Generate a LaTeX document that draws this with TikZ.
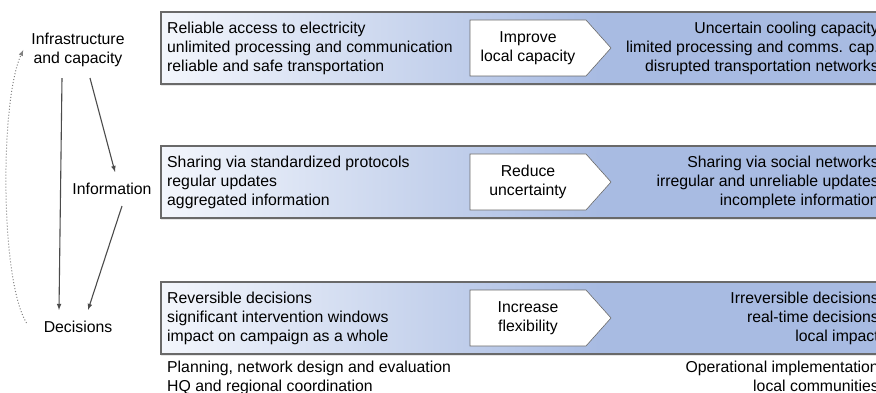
\documentclass[tikz,border=0pt]{standalone}
\usepackage{fontspec}
\setmainfont{Liberation Sans}
\usetikzlibrary{shadows}
\definecolor{bandblue}{RGB}{168,187,226}
\definecolor{bandpale}{RGB}{243,246,252}
\definecolor{rimgray}{RGB}{105,105,105}
\definecolor{arrgray}{RGB}{75,75,75}
\pgfdeclarehorizontalshading{bandfill}{100bp}{color(0bp)=(bandpale); color(25bp)=(bandpale); color(55bp)=(bandblue); color(100bp)=(bandblue)}
\begin{document}
\begin{tikzpicture}[>=latex, x=1pt, y=-1pt, font=\fontsize{15.8}{19}\selectfont]
\tikzset{
  band/.style={draw=rimgray, line width=1.6pt, shading=bandfill,
    drop shadow={shadow xshift=0pt, shadow yshift=-2pt, opacity=.2}},
  tagbox/.style={draw=rimgray, line width=.6pt, fill=white},
  factor/.style={align=center, inner xsep=0pt, inner ysep=11pt},
  flow/.style={->, draw=arrgray, line width=1.1pt},
}
\useasboundingbox (0,0) rectangle (876,393);

% the three bands: centralised side, action, field side
\foreach \c/\ltext/\mtext/\rtext [count=\i] in {
  48/{Reliable access to electricity\\unlimited processing and communication\\reliable and safe transportation}/{Improve\\local capacity}/{Uncertain cooling capacity\\limited processing and comms. cap.\\disrupted transportation networks},
  182/{Sharing via standardized protocols\\regular updates\\aggregated information}/{Reduce\\uncertainty}/{Sharing via social networks\\irregular and unreliable updates\\incomplete information},
  318/{Reversible decisions\\significant intervention windows\\impact on campaign as a whole}/{Increase\\flexibility}/{Irreversible decisions\\real-time decisions\\local impact}}
{
    \draw[band] (161,\c-36) rectangle (892,\c+36);
    \draw[tagbox] (470,\c-28)--(586,\c-28)--(611,\c)--(586,\c+28)--(470,\c+28)--cycle;
    \node[align=left, anchor=west, inner sep=0pt] (low\i) at (167,\c) {\ltext};
    \node[align=center] (act\i) at (528,\c) {\mtext};
    \node[align=right, anchor=east, inner sep=0pt] (high\i) at (879,\c) {\rtext};
}

\node[align=left, anchor=north west, inner sep=0pt] (plan) at (167,361) {Planning, network design and evaluation\\HQ and regional coordination};
\node[align=right, anchor=north east, inner sep=0pt] (oper) at (879,361) {Operational implementation\\local communities};

% left-hand chain
\node[factor] (infra) at (78,50) {Infrastructure\\and capacity};
\node[factor] (info) at (112,189) {Information};
\node[factor] (dec) at (78,327) {Decisions};

\draw[flow] ([xshift=-16pt]infra.south)--([xshift=-19pt]dec.north);
\draw[flow] ([xshift=12pt]infra.south)--([xshift=3pt]info.north);
\draw[flow] ([xshift=10pt]info.south)--([xshift=10pt]dec.north);
\draw[->, gray, dotted, line width=1pt] ([shift={(-17pt,4pt)}]dec.west) .. controls (0,280) and (0,100) .. ([xshift=-8pt]infra.west);
\end{tikzpicture}
\end{document}
